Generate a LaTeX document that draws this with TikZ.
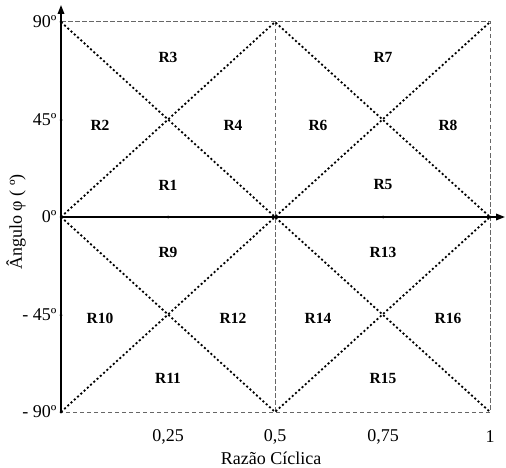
\documentclass[tikz,border=0pt]{standalone}
\usepackage{fontspec}
\setmainfont{Liberation Serif}
\usetikzlibrary{arrows.meta}
\begin{document}
\begin{tikzpicture}[x=1pt,y=-1pt,
  grid/.style={draw=black!60,dash pattern=on 4.5pt off 2.5pt,line width=1pt},
  diag/.style={draw=black,line width=1.8pt,dash pattern=on 2pt off 2.4pt},
  axis/.style={draw=black,line width=1.8pt,-{Triangle[length=9pt,width=6.5pt]}},
  reg/.style={font=\fontsize{15.5}{17}\selectfont\bfseries},
  tick/.style={font=\fontsize{18}{20}\selectfont}]
\useasboundingbox (0,0) rectangle (506,468);
% corner coordinates
\coordinate (TL) at (61,22);
\coordinate (TM) at (275,22);
\coordinate (TR) at (490,22);
\coordinate (ML) at (61,217);
\coordinate (MM) at (275,217);
\coordinate (MR) at (490,217);
\coordinate (BL) at (61,412);
\coordinate (BM) at (275,412);
\coordinate (BR) at (490,412);
\coordinate (ytop) at (61,5);
\coordinate (xend) at (505,217);
% grey dashed frame
\draw[grid] (TL) -- (TR) -- (BR) -- (BL);
\draw[grid] (TM) -- (BM);
% dotted diagonals
\draw[diag] (TL) -- (MM) -- (TR);
\draw[diag] (ML) -- (TM) -- (MR);
\draw[diag] (ML) -- (BM) -- (MR);
\draw[diag] (BL) -- (MM) -- (BR);
% axes
\draw[axis] (BL) -- (ytop);
\draw[axis] (ML) -- (xend);
% ticks
\foreach \yy in {22,120,217,315,412} \fill (61,\yy) circle (1.5pt);
\foreach \xx in {168,275,383,490} \fill (\xx,217) circle (1.5pt);
% tick labels
\node[tick,anchor=east] (y90) at (60,22) {90º};
\node[tick,anchor=east] (y45) at (60,120) {45º};
\node[tick,anchor=east] (y0) at (60,217) {0º};
\node[tick,anchor=east] (ym45) at (60,315) {- 45º};
\node[tick,anchor=east] (ym90) at (60,412) {- 90º};
\node[tick] (x25) at (168,437) {0,25};
\node[tick] (x50) at (275,437) {0,5};
\node[tick] (x75) at (383,437) {0,75};
\node[tick] (x1) at (490,437) {1};
\node[tick] (xlab) at (271,458) {Razão Cíclica};
\node[tick,rotate=90] (ylab) at (16,222) {Ângulo φ ( º)};
% region labels
\node[reg] (r3) at (168,57) {R3};
\node[reg] (r7) at (383,57) {R7};
\node[reg] (r2) at (100,125) {R2};
\node[reg] (r4) at (233,125) {R4};
\node[reg] (r6) at (318,125) {R6};
\node[reg] (r8) at (448,125) {R8};
\node[reg] (r1) at (168,185) {R1};
\node[reg] (r5) at (383,185) {R5};
\node[reg] (r9) at (168,252) {R9};
\node[reg] (r13) at (383,252) {R13};
\node[reg] (r10) at (100,318) {R10};
\node[reg] (r12) at (233,318) {R12};
\node[reg] (r14) at (318,318) {R14};
\node[reg] (r16) at (448,318) {R16};
\node[reg] (r11) at (168,378) {R11};
\node[reg] (r15) at (383,378) {R15};
\end{tikzpicture}
\end{document}
